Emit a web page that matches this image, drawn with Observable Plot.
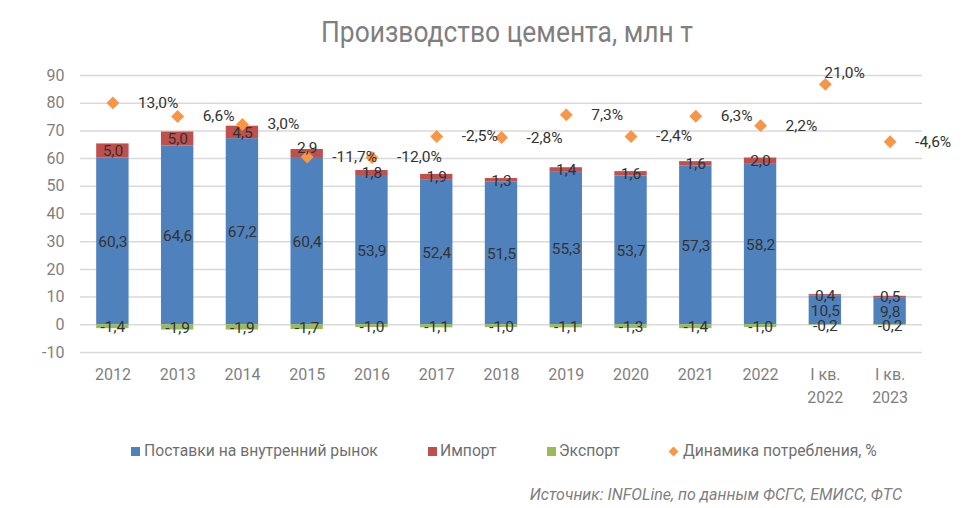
<!DOCTYPE html>
<html lang="ru">
<head>
<meta charset="utf-8">
<script src="https://cdn.jsdelivr.net/npm/d3@7"></script>
<script src="https://cdn.jsdelivr.net/npm/@observablehq/plot@0.6"></script>
<style>
  html, body { margin: 0; background: #fff; }
  body { position: relative; width: 975px; height: 508px; overflow: hidden; font-family: Roboto, sans-serif; color: #7f7f7f; }
  #title { position: absolute; top: 13px; left: 507px; font-size: 29px; line-height: 38px; white-space: nowrap; transform: translateX(-50%) scaleX(0.91); }
  #chart { padding-top: 50px; }
  #chart svg { display: block; }
  .leg { position: absolute; top: 441px; font-size: 15.7px; line-height: 20px; white-space: nowrap; color: #6f6f6f; }
  .sw { position: absolute; top: 447px; width: 9px; height: 9px; }
  #source { position: absolute; top: 485px; right: 73px; font-size: 16px; line-height: 20px; font-style: italic; color: #7f7f7f; }
</style>
</head>
<body>
<div id="title">Производство цемента, млн т</div>
<div id="chart"></div>
<span class="sw" style="left:131px;background:#4f81bd"></span><span class="leg" style="left:144px">Поставки на внутренний рынок</span>
<span class="sw" style="left:428px;background:#c0504d"></span><span class="leg" style="left:440px">Импорт</span>
<span class="sw" style="left:547px;background:#9bbb59"></span><span class="leg" style="left:559px">Экспорт</span>
<span class="sw" style="left:670px;top:448px;width:7px;height:7px;background:#f79646;transform:rotate(45deg)"></span><span class="leg" style="left:683px">Динамика потребления, %</span>
<div id="source">Источник: INFOLine, по данным ФСГС, ЕМИСС, ФТС</div>
<script>
const periods = ['2012', '2013', '2014', '2015', '2016', '2017', '2018', '2019', '2020', '2021', '2022', 'I кв.\n2022', 'I кв.\n2023'];
const domestic = [60.3, 64.6, 67.2, 60.4, 53.9, 52.4, 51.5, 55.3, 53.7, 57.3, 58.2, 10.5, 9.8];
const imports = [5.0, 5.0, 4.5, 2.9, 1.8, 1.9, 1.3, 1.4, 1.6, 1.6, 2.0, 0.4, 0.5];
const exports_ = [-1.4, -1.9, -1.9, -1.7, -1.0, -1.1, -1.0, -1.1, -1.3, -1.4, -1.0, -0.2, -0.2];
const consumption = [13.0, 6.6, 3.0, -11.7, -12.0, -2.5, -2.8, 7.3, -2.4, 6.3, 2.2, 21.0, -4.6];
const consumptionPos = [80.1, 75.2, 72.3, 60.6, 60.4, 68, 67.6, 75.8, 68, 75.3, 71.9, 86.8, 66.1];
const yTicks = [-10, 0, 10, 20, 30, 40, 50, 60, 70, 80, 90];

const seriesNames = ['Поставки на внутренний рынок', 'Импорт', 'Экспорт'];
const seriesColors = ['#4f81bd', '#c0504d', '#9bbb59'];

const comma = (v, suffix = '') => v.toFixed(1).replace('.', ',') + suffix;

const rows = periods.flatMap((p, i) => [
  {period: p, series: seriesNames[0], value: domestic[i]},
  {period: p, series: seriesNames[1], value: imports[i]},
  {period: p, series: seriesNames[2], value: exports_[i]}
]);
const points = periods.map((p, i) => ({period: p, pos: consumptionPos[i], pct: consumption[i]}));

// two labels are moved away from their default place, as in the original
const raisedImport = '2015';
const topPoint = 'I кв.\n2022';

const chart = Plot.plot({
  width: 975,
  height: 380,
  marginLeft: 80,
  marginRight: 53,
  marginTop: 25,
  marginBottom: 78,
  style: {fontFamily: 'Roboto, sans-serif', fontSize: '16px', background: 'transparent'},
  x: {domain: periods, paddingInner: 0.5, paddingOuter: 0.25, round: false, label: null},
  y: {domain: [-10, 90], label: null},
  color: {domain: seriesNames, range: seriesColors},
  marks: [
    Plot.ruleY(yTicks, {stroke: '#d9d9d9', strokeWidth: 1.5}),
    Plot.barY(rows, {x: 'period', y: 'value', z: 'series', fill: 'series', order: seriesNames}),
    Plot.dot(points, {x: 'period', y: 'pos', symbol: 'diamond2', r: 5.8, fill: '#f79646'}),
    Plot.text(rows, Plot.stackY({
      x: 'period', y: 'value', z: 'series', order: seriesNames,
      text: d => (d.period === raisedImport && d.series === seriesNames[1]) ? '' : comma(d.value),
      fill: '#333', fontSize: 15.5, dy: 0.5
    })),
    Plot.text(periods.filter(p => p === raisedImport), {
      x: d => d,
      y: d => domestic[periods.indexOf(d)] + imports[periods.indexOf(d)] / 2,
      text: d => comma(imports[periods.indexOf(d)]),
      fill: '#333', fontSize: 15.5, dy: -5
    }),
    Plot.text(points.filter(d => d.period !== topPoint), {
      x: 'period', y: 'pos', text: d => comma(d.pct, '%'),
      textAnchor: 'start', dx: 25, fill: '#333', fontSize: 15.5
    }),
    Plot.text(points.filter(d => d.period === topPoint), {
      x: 'period', y: 'pos', text: d => comma(d.pct, '%'),
      textAnchor: 'start', dx: -1, dy: -11, fill: '#333', fontSize: 15.5
    }),
    Plot.axisY({ticks: yTicks, tickSize: 0, tickPadding: 16, tickFormat: d => String(d), color: '#7f7f7f', label: null}),
    Plot.axisX({tickSize: 0, tickPadding: 11, lineHeight: 1.45, color: '#7f7f7f', label: null})
  ]
});
document.querySelector('#chart').append(chart);
</script>
</body>
</html>
